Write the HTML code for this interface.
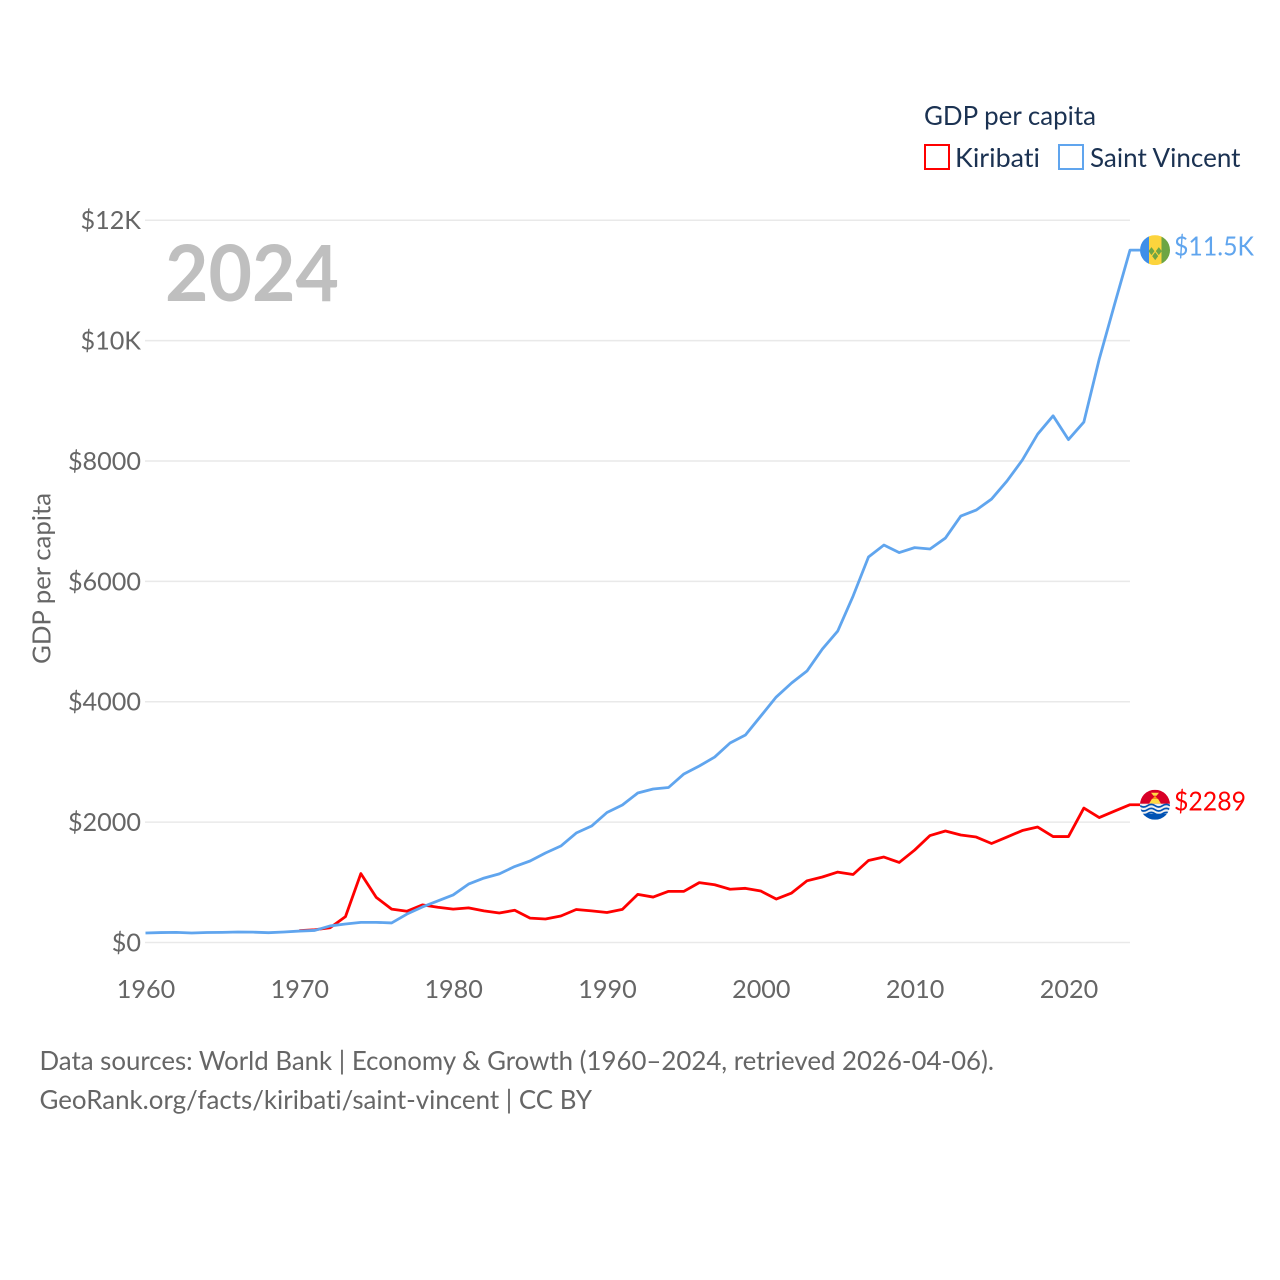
<!DOCTYPE html>
<html lang="en">
<head>
<meta charset="utf-8">
<title>GDP per capita: Kiribati and Saint Vincent</title>
<style>
html,body{margin:0;padding:0;background:#fff;width:1280px;height:1280px;overflow:hidden}
svg{display:block}
text{font-family:"Lato","Carlito","Liberation Sans",sans-serif;font-variant-ligatures:none}
</style>
</head>
<body>
<svg id="chart" width="1280" height="1280" viewBox="0 0 1280 1280" xmlns="http://www.w3.org/2000/svg">
  <defs>
    <clipPath id="clip-sv"><circle cx="0" cy="0" r="15"/></clipPath>
    <clipPath id="clip-ki"><circle cx="0" cy="0" r="15"/></clipPath>
  </defs>
  <g id="grid"></g>
  <g id="yticks"></g>
  <g id="xticks"></g>
  <text x="165" y="301" font-size="78" font-weight="700" fill="#bfbfbf" textLength="174" lengthAdjust="spacingAndGlyphs">2024</text>
  <text transform="translate(50.5,578.5) rotate(-90)" text-anchor="middle" font-size="25" fill="#666666" textLength="171" lengthAdjust="spacingAndGlyphs">GDP per capita</text>
  <g id="series"></g>
  <g id="ends"></g>
  <g>
    <text x="924" y="125" font-size="26" fill="#1b3252" textLength="172" lengthAdjust="spacingAndGlyphs">GDP per capita</text>
    <rect x="925" y="145" width="24" height="24" fill="#fff" stroke="#ff0000" stroke-width="2"/>
    <text x="955" y="167" font-size="26" fill="#1b3252" textLength="85" lengthAdjust="spacingAndGlyphs">Kiribati</text>
    <rect x="1059" y="145" width="24" height="24" fill="#fff" stroke="#60a5ee" stroke-width="2"/>
    <text x="1090" y="167" font-size="26" fill="#1b3252" textLength="150.5" lengthAdjust="spacingAndGlyphs">Saint Vincent</text>
  </g>
  <g>
    <text x="39.5" y="1070" font-size="26" fill="#666666" textLength="954.5" lengthAdjust="spacingAndGlyphs">Data sources: World Bank | Economy &amp; Growth (1960–2024, retrieved 2026-04-06).</text>
    <text x="39.5" y="1109" font-size="26" fill="#666666" textLength="552.5" lengthAdjust="spacingAndGlyphs">GeoRank.org/facts/kiribati/saint-vincent | CC BY</text>
  </g>
</svg>
<script>
const years = [1960,1961,1962,1963,1964,1965,1966,1967,1968,1969,1970,1971,1972,1973,1974,1975,1976,1977,1978,1979,1980,1981,1982,1983,1984,1985,1986,1987,1988,1989,1990,1991,1992,1993,1994,1995,1996,1997,1998,1999,2000,2001,2002,2003,2004,2005,2006,2007,2008,2009,2010,2011,2012,2013,2014,2015,2016,2017,2018,2019,2020,2021,2022,2023,2024];
const kiribati = [null,null,null,null,null,null,null,null,null,null,197,212,245,430,1145,750,555,520,625,585,555,575,525,490,535,405,390,440,548,525,498,550,800,755,850,850,995,960,885,900,855,722,822,1025,1088,1170,1130,1362,1420,1330,1536,1777,1852,1786,1752,1645,1752,1860,1918,1760,1760,2234,2076,2184,2289];
const saintVincent = [158,165,168,158,166,168,175,172,163,175,190,200,275,307,335,335,325,473,590,690,790,970,1070,1140,1262,1354,1487,1603,1819,1935,2160,2284,2483,2550,2575,2800,2932,3081,3314,3447,3762,4078,4311,4510,4875,5174,5756,6404,6603,6478,6560,6537,6719,7085,7184,7367,7666,8015,8447,8750,8355,8646,9692,10606,11503];
const yTickValues = [0,2000,4000,6000,8000,10000,12000];
const yTickLabels = ["$0","$2000","$4000","$6000","$8000","$10K","$12K"];
const xTickValues = [1960,1970,1980,1990,2000,2010,2020];
const endLabels = ["$2289","$11.5K"];

const NS = "http://www.w3.org/2000/svg";
function xScale(year){ return 145.5 + (year - 1960) * (1130 - 145.5) / 64; }
function yScale(v){ return 942.5 - v * (942.5 - 220.2) / 12000; }
function make(tag, attrs, parent, text){
  const el = document.createElementNS(NS, tag);
  for (const k in attrs) el.setAttribute(k, attrs[k]);
  if (text !== undefined) el.textContent = text;
  parent.appendChild(el);
  return el;
}
const gridG = document.getElementById('grid');
const yG = document.getElementById('yticks');
const xG = document.getElementById('xticks');
const seriesG = document.getElementById('series');
const endsG = document.getElementById('ends');

yTickValues.forEach(function(v, i){
  const line = make('line', {x1:145, x2:1130, y1:yScale(v), y2:yScale(v), stroke:'#e9e9e9', 'stroke-width':1.5}, gridG);
  
  
  const t = make('text', {x:141, y:yScale(v)+9, 'text-anchor':'end', 'font-size':25.2, fill:'#666666'}, yG, yTickLabels[i]);
  
  
});
xTickValues.forEach(function(y){
  const t = make('text', {x:xScale(y)+0.5, y:998, 'text-anchor':'middle', 'font-size':25.2, fill:'#666666'}, xG, String(y));
  
  
});
function linePath(values){
  let d = '';
  let last = null;
  values.forEach(function(v, i){
    if (v === null) return;
    d += (last === null ? 'M' : 'L') + xScale(years[i]).toFixed(2) + ' ' + yScale(v).toFixed(2);
    last = v;
  });
  d += 'L' + (xScale(years[years.length-1]) + 10).toFixed(2) + ' ' + yScale(last).toFixed(2);
  return d;
}
const kiriLine = make('path', {d:linePath(kiribati), fill:'none', stroke:'#ff0000', 'stroke-width':2.8, 'stroke-linejoin':'round'}, seriesG);


const svLine = make('path', {d:linePath(saintVincent), fill:'none', stroke:'#60a5ee', 'stroke-width':2.8, 'stroke-linejoin':'round'}, seriesG);



const flagX = xScale(2024) + 25;
const kiY = yScale(kiribati[kiribati.length-1]);
const svY = yScale(saintVincent[saintVincent.length-1]);

// Saint Vincent flag
const svFlag = make('g', {transform:'translate(' + flagX + ',' + svY + ')', 'clip-path':'url(#clip-sv)'}, endsG);


make('rect', {x:-15, y:-15, width:9, height:30, fill:'#3f8fe8'}, svFlag);
make('rect', {x:-6, y:-15, width:12.5, height:30, fill:'#fcd43d'}, svFlag);
make('rect', {x:6.5, y:-15, width:8.5, height:30, fill:'#6da544'}, svFlag);
make('path', {d:'M-3.5 -3 l3 4 l-3 4 l-3 -4z M3.8 -3 l3 4 l-3 4 l-3 -4z M0.2 2 l3 4 l-3 4 l-3 -4z', fill:'#6da544'}, svFlag);

// Kiribati flag
const kiFlag = make('g', {transform:'translate(' + flagX + ',' + kiY + ')', 'clip-path':'url(#clip-ki)'}, endsG);


make('rect', {x:-15, y:-15, width:30, height:15, fill:'#d80027'}, kiFlag);
make('path', {d:'M-6 -1 L-3 -6 L3 -6 L6 -1z', fill:'#ffda44'}, kiFlag);
make('path', {d:'M-4 -12 L4 -12 L1.5 -9 L-1.5 -9z', fill:'#ffda44'}, kiFlag);
make('path', {d:'M-2.5 -6 L0 -9 L2.5 -6z', fill:'#ff9811'}, kiFlag);
make('rect', {x:-15, y:-1, width:30, height:16, fill:'#f0f0f0'}, kiFlag);
make('rect', {x:-15, y:9, width:30, height:6, fill:'#0052b4'}, kiFlag);
make('path', {d:'M-15 1 q3.75 2.6 7.5 0 t7.5 0 t7.5 0 t7.5 0 M-15 5 q3.75 2.6 7.5 0 t7.5 0 t7.5 0 t7.5 0 M-15 9 q3.75 2.6 7.5 0 t7.5 0 t7.5 0 t7.5 0', fill:'none', stroke:'#0052b4', 'stroke-width':1.7}, kiFlag);

const kiLabel = make('text', {x:1174, y:kiY+6, 'font-size':26, fill:'#ff0000', textLength:72, lengthAdjust:'spacingAndGlyphs'}, endsG, endLabels[0]);


const svLabel = make('text', {x:1174, y:svY+5.5, 'font-size':26, fill:'#60a5ee', textLength:80, lengthAdjust:'spacingAndGlyphs'}, endsG, endLabels[1]);


</script>
</body>
</html>
